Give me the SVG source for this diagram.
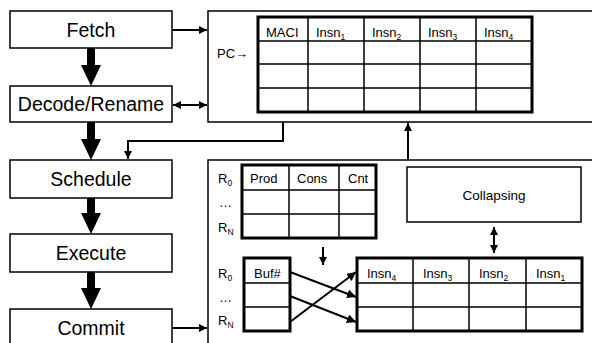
<svg xmlns="http://www.w3.org/2000/svg" width="592" height="343" viewBox="0 0 592 343">
<defs>
<style>
.box{fill:#fff;stroke:#000;stroke-width:1.5}
.tbl{fill:#fff;stroke:#000;stroke-width:3}
.grid{stroke:#000;stroke-width:1.5;fill:none}
.big{font-family:"Liberation Sans",Arial,sans-serif;font-size:19.5px;text-anchor:middle;fill:#000}
.t{font-family:"Liberation Sans",Arial,sans-serif;font-size:13px;fill:#000}
.sub{font-size:8.5px}
.ln{stroke:#000;stroke-width:2;fill:none}
</style>
<marker id="ah" viewBox="0 0 10 10" refX="10" refY="5" markerWidth="4" markerHeight="4" orient="auto-start-reverse" markerUnits="strokeWidth">
<path d="M0,0 L10,5 L0,10 z" fill="#000"/>
</marker>
<marker id="ahs" viewBox="0 0 10 10" refX="10" refY="5" markerWidth="4.5" markerHeight="4.5" orient="auto-start-reverse" markerUnits="strokeWidth">
<path d="M0,0 L10,5 L0,10 z" fill="#000"/>
</marker>
</defs>
<rect width="592" height="343" fill="#fff"/>

<g id="fetch"><rect class="box" x="10" y="11" width="162" height="37"/><text class="big" x="91" y="36.5">Fetch</text></g>
<g id="decode"><rect class="box" x="10" y="86" width="162" height="36"/><text class="big" x="91" y="111">Decode/Rename</text></g>
<g id="schedule"><rect class="box" x="10" y="160" width="162" height="38"/><text class="big" x="91" y="186">Schedule</text></g>
<g id="execute"><rect class="box" x="10" y="234" width="162" height="38"/><text class="big" x="91" y="260">Execute</text></g>
<g id="commit"><rect class="box" x="10" y="309" width="162" height="40"/><text class="big" x="91" y="335">Commit</text></g>

<g id="frontend">
<rect class="box" x="208" y="11" width="390" height="111"/>
<text class="t" x="217" y="58">PC→</text>
<g id="macitable">
<rect class="tbl" x="258" y="17" width="274" height="95"/>
<path class="grid" d="M258,41H532M258,64H532M258,88H532M308,17V112M364,17V112M420,17V112M476,17V112"/>
<text class="t" x="266" y="37">MACI</text>
<text class="t" x="316" y="37">Insn<tspan class="sub" dy="3">1</tspan></text>
<text class="t" x="372" y="37">Insn<tspan class="sub" dy="3">2</tspan></text>
<text class="t" x="428" y="37">Insn<tspan class="sub" dy="3">3</tspan></text>
<text class="t" x="484" y="37">Insn<tspan class="sub" dy="3">4</tspan></text>
</g>
</g>

<g id="backend">
<rect class="box" x="208" y="160" width="390" height="190"/>
<g id="regtable">
<text class="t" x="218" y="183">R<tspan class="sub" dy="3">0</tspan></text>
<text class="t" x="219" y="207">…</text>
<text class="t" x="218" y="232">R<tspan class="sub" dy="3">N</tspan></text>
<rect class="tbl" x="242" y="165" width="134" height="73"/>
<path class="grid" d="M242,190H376M242,214H376M289,165V238M339,165V238"/>
<text class="t" x="250" y="183">Prod</text>
<text class="t" x="297" y="183">Cons</text>
<text class="t" x="348" y="183">Cnt</text>
</g>
<g id="collapsing">
<rect class="box" x="407" y="167" width="174" height="55"/>
<text class="t" x="494" y="200" text-anchor="middle" style="font-size:13.5px">Collapsing</text>
</g>
<g id="buftable">
<text class="t" x="218" y="278">R<tspan class="sub" dy="3">0</tspan></text>
<text class="t" x="219" y="302">…</text>
<text class="t" x="218" y="325">R<tspan class="sub" dy="3">N</tspan></text>
<rect class="tbl" x="244" y="258" width="46" height="73"/>
<path class="grid" d="M244,283H290M244,307H290"/>
<text class="t" x="254" y="278">Buf#</text>
</g>
<g id="insntable">
<rect class="tbl" x="357" y="258" width="225" height="73"/>
<path class="grid" d="M357,283H582M357,307H582M413,258V331M469,258V331M526,258V331"/>
<text class="t" x="367" y="278">Insn<tspan class="sub" dy="3">4</tspan></text>
<text class="t" x="423" y="278">Insn<tspan class="sub" dy="3">3</tspan></text>
<text class="t" x="479" y="278">Insn<tspan class="sub" dy="3">2</tspan></text>
<text class="t" x="536" y="278">Insn<tspan class="sub" dy="3">1</tspan></text>
</g>
</g>

<g id="connectors">
<g fill="#000">
<path d="M87,48H95V65H101L91,86L81,65H87Z"/>
<path d="M87,122H95V139H101L91,160L81,139H87Z"/>
<path d="M87,198H95V213H101L91,234L81,213H87Z"/>
<path d="M87,272H95V288H101L91,309L81,288H87Z"/>
</g>
<line class="ln" x1="172" y1="30" x2="207" y2="30" marker-end="url(#ah)"/>
<line class="ln" x1="173" y1="105" x2="207" y2="105" marker-start="url(#ah)" marker-end="url(#ah)"/>
<line class="ln" x1="172" y1="328" x2="207" y2="328" marker-end="url(#ah)"/>
<polyline class="ln" points="283,122 283,141 128,141 128,159" marker-end="url(#ah)"/>
<line class="ln" x1="408" y1="160" x2="408" y2="123" marker-end="url(#ah)"/>
<line class="ln" x1="494" y1="227" x2="494" y2="253" marker-start="url(#ah)" marker-end="url(#ah)"/>
<line class="ln" x1="323" y1="247" x2="323" y2="265" marker-end="url(#ah)"/>
<line class="ln" x1="290" y1="272" x2="356" y2="297" marker-end="url(#ahs)"/>
<line class="ln" x1="290" y1="296" x2="356" y2="322" marker-end="url(#ahs)"/>
<line class="ln" x1="290" y1="322" x2="356" y2="272" marker-end="url(#ahs)"/>
</g>
</svg>
